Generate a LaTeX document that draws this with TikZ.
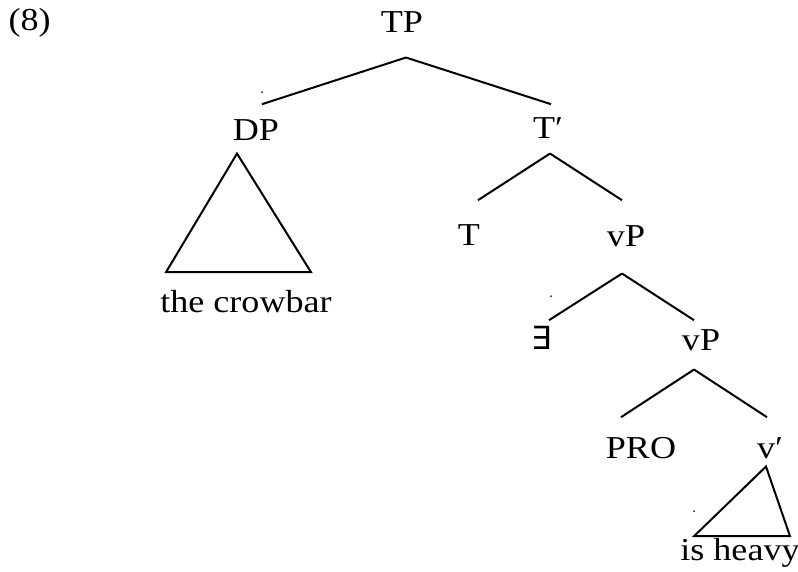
\documentclass[tikz,border=0pt]{standalone}
\usepackage{fontspec}
\setmainfont[FakeStretch=1.13]{Liberation Serif}
\newfontfamily\symfont{DejaVu Sans}
\usetikzlibrary{calc}
\tikzstyle{cat}=[anchor=base,inner sep=0pt,text height=8pt,text depth=0pt,font=\fontsize{12}{14}\selectfont]
\tikzstyle{branch}=[line width=0.75pt]

\begin{document}
\begin{tikzpicture}[x=0.376pt,y=-0.376pt]
    \useasboundingbox (0,0) rectangle (798,572);
    \node[cat,anchor=base west] (num) at (8,31) {(8)};
    \node[cat] (TP) at (402,33) {TP};
    \node[cat] (DP) at (256,141) {DP};
    \node[cat] (Tbar) at (548,139) {T′};
    \node[cat] (T) at (469,246) {T};
    \node[cat] (vP) at (626,247) {vP};
    \node[cat] (E) at (542,350) {\symfont ∃};
    \node[cat] (vPb) at (701,351) {vP};
    \node[cat] (PRO) at (641,458) {PRO};
    \node[cat] (vbar) at (770,458) {v′};
    \node[cat] (crow) at (246,313) {the crowbar};
    \node[cat] (heavy) at (740,560) {is heavy};

    \foreach \p/\c/\ax/\ay/\bx/\by in {TP/DP/4/24/6/-15,TP/Tbar/4/24/3/-13,Tbar/T/2/14/9/-24,Tbar/vP/2/14/-4/-25,vP/E/-4/26/7/-8,vP/vPb/-4/26/-7/-9,vPb/PRO/-7/18/-20/-19,vPb/vbar/-7/18/-3/-19}
    \draw[branch] ($(\p.south)+(\ax,\ay)$) -- ($(\c.north)+(\bx,\by)$);

    % roofs
    \draw[branch] ($(DP.south)+(-19,12)$) -- ($(crow.north)+(-80,-19)$) -- ($(crow.north)+(65,-19)$) -- cycle;
    \draw[branch] ($(vbar.south)+(-4,8)$) -- ($(heavy.north)+(-46,-2)$) -- ($(heavy.north)+(50,-2)$) -- cycle;

    % stray dots
    \fill ($(DP.north)+(6,-27)$) circle (0.35pt);
    \fill ($(E.north)+(9,-32)$) circle (0.35pt);
    \fill ($(heavy.north)+(-46,-27)$) circle (0.35pt);
\end{tikzpicture}
\end{document}
